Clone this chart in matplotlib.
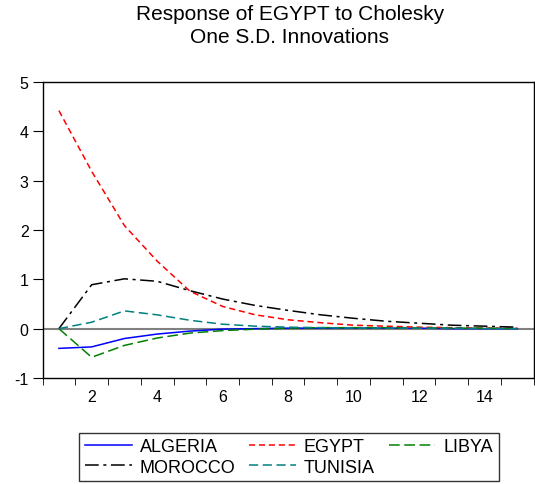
import matplotlib.pyplot as plt
import numpy as np

plt.rcParams['font.family'] = ['Liberation Sans', 'DejaVu Sans']
plt.rcParams['axes.unicode_minus'] = False

# Data (periods 1..15)
periods = np.arange(1, 16)
algeria = [-0.40, -0.37, -0.20, -0.11, -0.05, -0.01, 0.00, 0.01, 0.01, 0.01, 0.01, 0.01, 0.00, 0.00, 0.00]
egypt = [4.42, 3.19, 2.09, 1.37, 0.76, 0.45, 0.28, 0.18, 0.12, 0.07, 0.05, 0.03, 0.02, 0.01, 0.01]
libya = [0.00, -0.58, -0.34, -0.19, -0.09, -0.04, -0.01, 0.01, 0.02, 0.02, 0.02, 0.01, 0.01, 0.01, 0.00]
morocco = [0.00, 0.89, 1.01, 0.96, 0.77, 0.60, 0.47, 0.37, 0.28, 0.21, 0.15, 0.11, 0.07, 0.05, 0.03]
tunisia = [0.00, 0.13, 0.36, 0.28, 0.17, 0.09, 0.05, 0.03, 0.02, 0.01, 0.01, 0.01, 0.01, 0.00, 0.00]

fig = plt.figure(figsize=(5.35, 4.85), dpi=100)
ax = fig.add_axes([0.0795, 0.2186, 0.918, 0.6103])

ax.axhline(0, color='#808080', lw=1.5, zorder=1)

l_alg, = ax.plot(periods, algeria, color='blue', lw=1.1, label='ALGERIA')
l_egy, = ax.plot(periods, egypt, color='red', lw=1.1, dashes=(4, 2.5), label='EGYPT')
l_lib, = ax.plot(periods, libya, color='green', lw=1.1, dashes=(7, 3), label='LIBYA')
l_mor, = ax.plot(periods, morocco, color='black', lw=1.1, dashes=(9, 3, 2, 3), label='MOROCCO')
l_tun, = ax.plot(periods, tunisia, color='#008080', lw=1.1, dashes=(6, 3), label='TUNISIA')

ax.set_xlim(0.5, 15.5)
ax.set_ylim(-1, 5)
ax.set_yticks([-1, 0, 1, 2, 3, 4, 5])
ax.set_xticks([2, 4, 6, 8, 10, 12, 14])
ax.set_xticks(np.arange(0.5, 15.6, 1), minor=True)
ax.tick_params(axis='x', which='major', length=0, labelsize=11.5, pad=8)
ax.tick_params(axis='x', which='minor', length=5, direction='out')
ax.tick_params(axis='y', length=7, direction='out', labelsize=11.5, pad=3)

for s in ax.spines.values():
    s.set_linewidth(1.0)

fig.suptitle('Response of EGYPT to Cholesky\nOne S.D. Innovations', x=0.542, y=0.99, fontsize=15, linespacing=1.25)

# row-wise order: ALGERIA EGYPT LIBYA / MOROCCO TUNISIA
handles = [l_alg, l_mor, l_egy, l_tun, l_lib]
leg = fig.legend(handles=handles, labels=[h.get_label() for h in handles],
                 loc='center', bbox_to_anchor=(0.540, 0.0557), ncol=3, fontsize=13,
                 frameon=True, fancybox=False, edgecolor='black', handlelength=2.6,
                 columnspacing=0.75, handletextpad=0.45, borderpad=0.3, labelspacing=0.2)
leg.get_frame().set_linewidth(1.0)

plt.savefig('out.png', dpi=100)
